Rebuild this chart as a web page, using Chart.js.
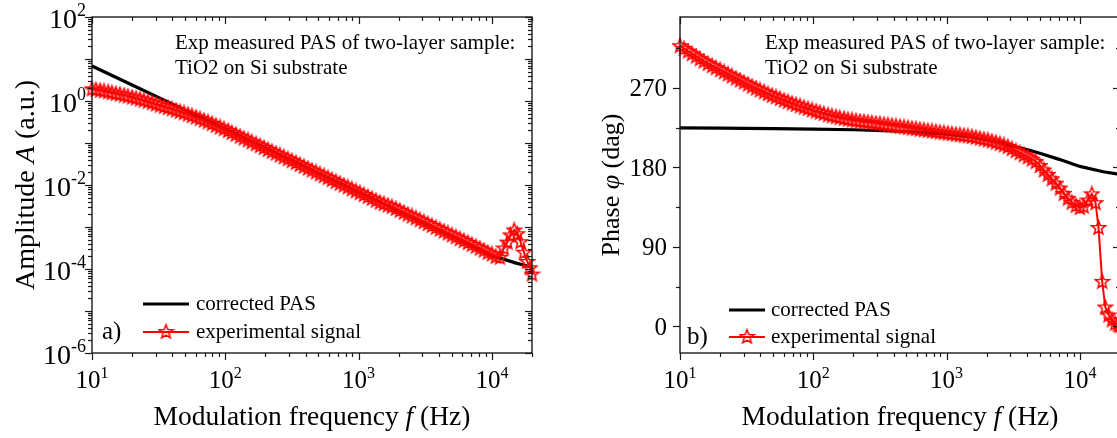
<!DOCTYPE html>
<html><head><meta charset="utf-8">
<script src="https://cdn.jsdelivr.net/npm/chart.js@4.4.0/dist/chart.umd.min.js"></script>
<style>
html,body{margin:0;padding:0;overflow:hidden;background:#fff;width:1117px;height:438px;}
canvas{position:absolute;top:0;}
#ca{left:0;} #cb{left:560px;}
</style></head><body>
<canvas id="ca" width="560" height="438"></canvas>
<canvas id="cb" width="580" height="438"></canvas>
<script>
// ---------- data ----------
const freqCorr = [10, 20, 50, 100, 200, 500, 1000, 1500, 2000, 3000, 4000, 5000, 7000, 10000, 15000, 20000];
const ampCorr = [6.8, 2.4, 0.608, 0.215, 0.076, 0.0192, 0.0068, 0.0037, 0.0024, 0.00131, 0.00085, 0.000608, 0.000367, 0.00021, 0.00014, 0.00011];
const phaseCorr = [224.5, 224.3, 223.8, 223.3, 222.5, 220.5, 217.5, 214.5, 211, 205, 200, 196, 189, 181, 175, 172];

const freqExp = [10,10.7,11.5,12.3,13.2,14.1,15.1,16.2,17.4,18.6,
 20,21.4,22.9,24.5,26.3,28.2,30.2,32.4,34.7,37.2,
 39.8,42.7,45.7,49,52.5,56.2,60.3,64.6,69.2,74.1,
 79.4,85.1,91.2,97.7,105,112,120,129,138,148,
 158,170,182,195,209,224,240,257,275,295,
 316,339,363,389,417,447,479,513,550,589,
 631,676,724,776,832,891,955,1023,1096,1175,
 1259,1349,1445,1549,1660,1778,1905,2042,2188,2344,
 2512,2692,2884,3090,3311,3548,3802,4074,4365,4677,
 5012,5370,5754,6166,6607,7079,7586,8128,8710,9333,
 10000,10715,11482,12303,13100,13800,14700,15500,16400,17400,
 18400,19300,20000];
const ampExp = [1.95,1.88,1.81,1.74,1.66,1.58,1.51,1.45,1.38,1.31,
 1.245,1.175,1.109,1.042,0.977,0.912,0.847,0.793,0.744,0.696,
 0.651,0.608,0.566,0.525,0.487,0.450,0.415,0.3815,0.3495,0.3195,
 0.2913,0.2651,0.2407,0.2185,0.1979,0.1788,0.1616,0.1457,0.1314,0.1184,
 0.1068,0.0963,0.0868,0.0782,0.0705,0.0636,0.0576,0.0519,0.0468,0.0422,
 0.0381,0.0343,0.0309,0.0279,0.0252,0.0227,0.0204,0.0184,0.0166,0.0150,
 0.0135,0.01224,0.01103,0.00994,0.00897,0.00808,0.00729,0.00657,0.00592,0.00534,
 0.00481,0.00434,0.00391,0.00361,0.00333,0.00307,0.00277,0.0025,0.00225,0.00203,
 0.00183,0.00165,0.00149,0.00134,0.00121,0.00109,0.000983,0.000886,0.000799,0.00072,
 0.000649,0.000585,0.000528,0.000476,0.000429,0.000387,0.000349,0.000314,0.000283,0.00025,
 0.000229,0.0002,0.00019,0.000316,0.000437,0.000646,0.000851,0.000692,0.000447,0.000251,
 0.000151,0.000107,0.0000759];
const phaseExp = [317.5,314.5,311.5,308.6,305.7,302.9,300.2,297.6,295.0,292.7,
 290.4,288.0,285.6,283.3,281.0,278.7,276.4,274.1,271.8,269.6,
 267.5,265.4,263.4,261.5,259.7,257.9,256.1,254.4,252.7,251.1,
 249.5,248.0,246.5,245.0,243.6,242.2,240.8,239.4,238.3,237.2,
 236.2,235.3,234.4,233.6,232.9,232.3,231.8,231.2,230.6,230.0,
 229.4,228.8,228.2,227.6,226.9,226.2,225.6,225.0,224.3,223.7,
 223.0,222.4,221.8,221.1,220.5,219.9,219.3,218.7,218.1,217.5,
 216.9,216.2,215.6,214.9,214.0,213.0,212.0,210.9,209.7,208.4,
 206.9,205.3,203.5,201.2,198.9,196.6,194.2,191.8,189.4,186.5,
 182,177,172,167,162,156.5,150.5,145,140.5,137,
 134.5,136,143,150,140,112,51,22,13,7.5,
 3.6,2,1];

const freqTickExps = [1, 2, 3, 4];
const ampTickExps = [2, 0, -2, -4, -6];
const phaseTicks = [0, 90, 180, 270];
const phaseMinorTicks = [45, 135, 225, 315];

const seriesNames = ['corrected PAS', 'experimental signal'];
const noteLines = ['Exp measured PAS of two-layer sample:', 'TiO2 on Si substrate'];

// ---------- helpers ----------
const FAM = '"Liberation Serif","Times New Roman",serif';
const fnt = (sz, it) => (it ? 'italic ' : '') + sz + 'px ' + FAM;

function makeStar(color) {
  const c = document.createElement('canvas');
  c.width = 17; c.height = 17;
  const g = c.getContext('2d');
  g.strokeStyle = color; g.lineWidth = 1.6; g.lineJoin = 'miter';
  g.beginPath();
  for (let i = 0; i < 10; i++) {
    const r = i % 2 ? 3.1 : 7.2;
    const a = -Math.PI / 2 + i * Math.PI / 5;
    const x = 8.5 + r * Math.cos(a), y = 9 + r * Math.sin(a);
    i ? g.lineTo(x, y) : g.moveTo(x, y);
  }
  g.closePath(); g.stroke();
  return c;
}
const STAR = makeStar('#ff0000');

function richWidth(ctx, parts, sz) {
  let w = 0;
  parts.forEach(p => { ctx.font = fnt(sz, p[1]); w += ctx.measureText(p[0]).width; });
  return w;
}
function drawRich(ctx, parts, x, y, sz) {
  const w = richWidth(ctx, parts, sz);
  let cx = x - w / 2;
  ctx.textBaseline = 'middle'; ctx.textAlign = 'left';
  parts.forEach(p => { ctx.font = fnt(sz, p[1]); ctx.fillText(p[0], cx, y); cx += ctx.measureText(p[0]).width; });
}
function powWidth(ctx, e, bs, ss) {
  ctx.font = fnt(bs); const b = ctx.measureText('10').width;
  ctx.font = fnt(ss); return b + ctx.measureText(String(e)).width;
}
function drawPow(ctx, e, x, baseline, bs, ss) {
  ctx.textBaseline = 'alphabetic'; ctx.textAlign = 'left';
  ctx.font = fnt(bs); ctx.fillText('10', x, baseline);
  const b = ctx.measureText('10').width;
  ctx.font = fnt(ss); ctx.fillText(String(e), x + b, baseline - bs * 0.42);
}
function seg(ctx, x1, y1, x2, y2) { ctx.beginPath(); ctx.moveTo(x1, y1); ctx.lineTo(x2, y2); ctx.stroke(); }

const decoPlugin = {
  id: 'deco',
  afterDraw(chart, args, o) {
    const ctx = chart.ctx, a = chart.chartArea, xs = chart.scales.x, ys = chart.scales.y;
    ctx.save();
    ctx.fillStyle = '#000';
    ctx.strokeStyle = '#1a1a1a'; ctx.lineWidth = 1.4;
    ctx.strokeRect(a.left, a.top, a.right - a.left, a.bottom - a.top);
    ctx.lineWidth = 1.2;
    freqTickExps.forEach(e => {
      for (let m = 1; m <= 9; m++) {
        const v = m * Math.pow(10, e);
        if (v > xs.max || v < xs.min) continue;
        const px = Math.round(xs.getPixelForValue(v)) + 0.5;
        const L = m === 1 ? 7 : 4;
        seg(ctx, px, a.bottom, px, a.bottom + L);
        seg(ctx, px, a.top, px, a.top + L);
      }
      const px = xs.getPixelForValue(Math.pow(10, e));
      const w = powWidth(ctx, e, 25, 16);
      drawPow(ctx, e, px - w / 2, 388, 25, 16);
    });
    if (o.kind === 'amp') {
      for (let e = -6; e <= 2; e++) {
        for (let m = 1; m <= 9; m++) {
          const v = m * Math.pow(10, e);
          if (v > ys.max * 1.0001 || v < ys.min) continue;
          const py = Math.round(ys.getPixelForValue(v)) + 0.5;
          const L = m === 1 ? 7 : 4;
          seg(ctx, a.left - L, py, a.left, py);
          seg(ctx, a.right - L, py, a.right, py);
        }
      }
      ampTickExps.forEach(e => {
        const py = ys.getPixelForValue(Math.pow(10, e));
        const w = powWidth(ctx, e, 28, 18);
        drawPow(ctx, e, 86 - w, py + 11, 28, 18);
      });
    } else {
      phaseTicks.concat(phaseMinorTicks).forEach(v => {
        const py = Math.round(ys.getPixelForValue(v)) + 0.5;
        const L = phaseTicks.includes(v) ? 7 : 4;
        seg(ctx, a.left - L, py, a.left, py);
        seg(ctx, a.right - L, py, a.right, py);
      });
      ctx.font = fnt(25); ctx.textAlign = 'right'; ctx.textBaseline = 'alphabetic';
      phaseTicks.forEach(v => ctx.fillText(String(v), a.left - 13, ys.getPixelForValue(v) + 8.5));
    }
    const cx = (a.left + a.right) / 2;
    drawRich(ctx, [['Modulation frequency ', false], ['f', true], [' (Hz)', false]], cx, 418, 27.5);
    ctx.save();
    ctx.translate(o.ytx, (a.top + a.bottom) / 2);
    ctx.rotate(-Math.PI / 2);
    drawRich(ctx, o.ytitle, 0, 0, o.ytsz);
    ctx.restore();
    ctx.font = fnt(21); ctx.textAlign = 'left'; ctx.textBaseline = 'middle';
    ctx.fillText(noteLines[0], o.noteX, 43);
    ctx.fillText(noteLines[1], o.noteX, 68);
    const ds = chart.data.datasets;
    const lg = o.legend;
    ctx.strokeStyle = ds[1].borderColor; ctx.lineWidth = ds[1].borderWidth;
    seg(ctx, lg.x1, lg.y1, lg.x2, lg.y1);
    ctx.strokeStyle = ds[0].borderColor; ctx.lineWidth = ds[0].borderWidth;
    seg(ctx, lg.x1, lg.y2, lg.x2, lg.y2);
    ctx.drawImage(STAR, (lg.x1 + lg.x2) / 2 - 8.5, lg.y2 - 9);
    ctx.fillStyle = '#000';
    ctx.font = fnt(21); ctx.textAlign = 'left'; ctx.textBaseline = 'middle';
    ctx.fillText(ds[1].label, lg.tx, lg.y1);
    ctx.fillText(ds[0].label, lg.tx, lg.y2);
    ctx.font = fnt(25);
    ctx.fillText(o.tag, o.tagX, lg.y2);
    ctx.restore();
  }
};

function makeChart(id, yvalsExp, yvalsCorr, yScale, pad, deco) {
  const pts = (xs, ys) => xs.map((x, i) => ({ x: x, y: ys[i] }));
  return new Chart(document.getElementById(id), {
    type: 'line',
    data: {
      datasets: [
        { label: seriesNames[1], data: pts(freqExp, yvalsExp), borderColor: '#ff0000', borderWidth: 2,
          pointStyle: STAR, pointRadius: 8, pointHoverRadius: 8, tension: 0, clip: false, order: 0 },
        { label: seriesNames[0], data: pts(freqCorr, yvalsCorr), borderColor: '#000000', borderWidth: 3.2,
          pointRadius: 0, tension: 0, clip: false, order: 1 }
      ]
    },
    options: {
      responsive: false, animation: false, events: [],
      layout: { padding: pad },
      scales: {
        x: { type: 'logarithmic', min: 10, max: 20000, display: false },
        y: Object.assign({ display: false }, yScale)
      },
      plugins: { legend: { display: false }, tooltip: { enabled: false }, deco: deco }
    },
    plugins: [decoPlugin]
  });
}

makeChart('ca', ampExp, ampCorr, { type: 'logarithmic', min: 1e-6, max: 100 },
  { left: 92, right: 28, top: 17, bottom: 85 },
  { kind: 'amp', ytx: 27, ytsz: 28, ytitle: [['Amplitude ', false], ['A', true], [' (a.u.)', false]], noteX: 175,
    legend: { x1: 143, x2: 189, y1: 304, y2: 332, tx: 196 }, tag: 'a)', tagX: 102 });

makeChart('cb', phaseExp, phaseCorr, { type: 'linear', min: -30, max: 350 },
  { left: 120, right: 20, top: 17, bottom: 85 },
  { kind: 'phase', ytx: 52, ytsz: 26, ytitle: [['Phase ', false], ['\u03C6', true], [' (dag)', false]], noteX: 205,
    legend: { x1: 169, x2: 205, y1: 310, y2: 337, tx: 211 }, tag: 'b)', tagX: 127 });
</script></body></html>
